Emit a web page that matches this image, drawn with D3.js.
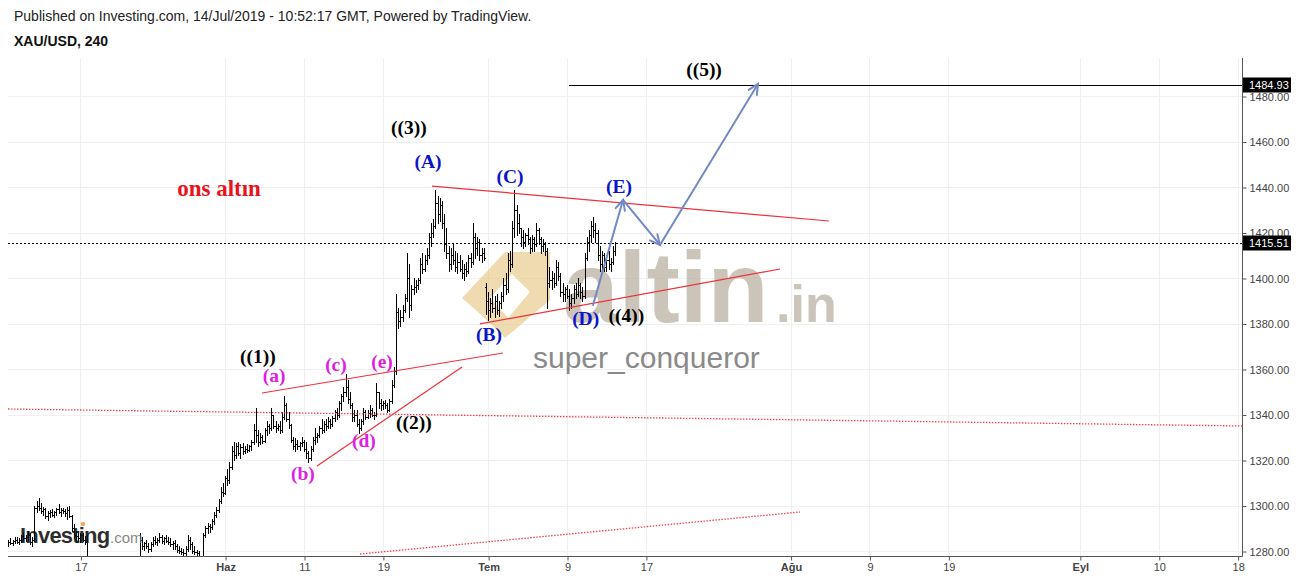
<!DOCTYPE html>
<html><head><meta charset="utf-8">
<script src="https://cdn.jsdelivr.net/npm/d3@7/dist/d3.min.js"></script>
<style>body{margin:0;background:#fff;}svg{display:block;}</style>
</head><body>
<svg id="c" width="1299" height="580"></svg>
<script>
// ---------- DATA ----------
// XAU/USD 4h bars, 6 bars per trading day; first bar = May 9 2019 (trading-day 0), slot 3
const firstBarDay = 0.5;
const barsPerDay = 6;
const opens = [1283.5,1284,1283.5,1284.5,1285,1284,1285,1286.5,1285.5,1286,1287,1284,1285,1299,1300,1299,1297.5,1298.5,1295.5,1296.5,1297,1296,1297,1298.5,1297,1298,1297.5,1296.5,1298,1295.5,1290,1287,1286.5,1285.5,1287,1285,1284,1277,1274,1275,1276,1274,1272,1273,1274,1275,1276,1274,1273,1272.5,1273.5,1274,1275,1274,1273,1274,1275.5,1276,1275,1275,1276,1285,1282,1283.5,1282,1281,1283,1285,1284,1285,1286,1284.5,1285.5,1284.5,1284,1283,1283.5,1282,1280.5,1280,1279.5,1279,1281,1285,1283,1280,1279.5,1279,1277,1275,1287,1290,1291,1290.5,1293,1296,1298,1302,1306,1305.5,1312,1311,1317,1324,1322,1326,1323,1325.5,1324,1325,1324.5,1326,1328,1333,1331,1328,1330,1328.5,1333,1335,1334,1340,1335,1334,1335,1333,1339,1344,1338,1335.5,1329,1326,1327,1326,1327.5,1328,1325,1323,1321,1325,1329,1330,1331,1334,1333,1336,1335,1337,1336,1338.5,1341,1340,1345,1348,1350,1352,1347,1344,1339,1340,1336,1334,1337,1341,1339,1340.5,1342,1340,1340,1350,1345,1344,1345,1344,1342,1346,1353,1359,1385,1381,1383,1386,1391,1400,1388,1395,1396,1397,1399,1406,1404,1408,1410,1418,1420,1423,1433,1428,1432,1424,1415,1411,1406,1410,1408,1405,1407,1404,1402,1404,1403,1409,1407,1418,1413,1416,1410,1411,1396,1390,1386,1389,1387,1390,1386,1389,1392,1397,1395,1408,1406,1422,1430,1424,1422,1418,1416,1419,1417,1413,1417,1415,1421,1417,1414,1415,1412,1398,1399,1400,1398,1405,1401,1394,1393,1395,1392,1389,1391,1395,1393,1397,1394,1392,1409,1416,1419,1423,1421,1420,1410,1406,1410,1405,1408,1406,1407,1412];
const highs = [1285,1285.5,1285,1286,1286,1285.5,1287,1288,1287,1289,1288,1286,1300,1302,1303.5,1301,1299.5,1299,1297.5,1298,1298.5,1297.5,1299,1300.5,1299,1299,1298.5,1299.5,1300,1296,1292,1289,1288.5,1288,1288,1286.5,1287,1277,1276,1277,1276.5,1275,1274,1275,1276,1277,1277,1275,1274,1274,1275,1276,1276.5,1275,1274.5,1276,1277,1277,1276.5,1277,1288,1286,1284,1285,1283.5,1284,1286,1286.5,1285.5,1288,1287,1286,1287,1286,1285.5,1284.5,1285,1283,1282,1281.5,1281,1282,1287,1286,1284,1282,1280.5,1280,1278,1288,1291,1292.5,1292,1294,1297,1299.5,1303,1308,1310,1313,1316,1319,1326,1328,1327.5,1328,1327,1327.5,1326,1327,1326.5,1329,1336,1343,1333,1332,1331,1334,1337,1336,1343,1340,1337,1336,1337,1341,1348,1345,1341,1336,1330,1329.5,1329,1328,1330,1329,1328,1324,1326,1330,1334,1332,1335,1338,1337,1338,1339,1338,1339.5,1342,1343,1346,1349,1352,1358,1355,1350,1345,1342,1342,1338,1338,1343,1342,1342,1344,1343,1341,1354,1350,1347,1346,1346.5,1345,1347,1355,1361,1393,1387,1386,1388,1393,1411,1406,1397,1400,1399,1400,1409,1411,1410,1413,1420,1424,1426,1438.5,1436,1435,1434,1428,1422,1414,1413,1415,1412,1411,1410,1408,1406,1407,1410,1411,1424,1420,1418,1417,1413,1413,1398,1394,1391,1395,1392,1393,1390,1394,1400,1402,1411,1412,1425,1438.5,1432,1428,1422,1421,1420,1422,1418,1419,1418,1424,1422,1418,1417,1416,1413,1405,1403,1402,1408,1407,1402,1398,1396,1397,1395,1393,1397,1398,1400,1398,1396,1411,1418,1421,1425,1426.7,1424,1421,1414,1412,1411,1410,1412,1409,1414,1416];
const lows = [1282,1283,1282.5,1283.5,1283.5,1283,1284,1285,1284.5,1285,1283,1282,1284.5,1297,1298,1296.5,1296,1294.5,1293.5,1295,1295.5,1295,1296,1296.5,1295.5,1296.5,1295.5,1294,1295,1289,1285.5,1284,1284.5,1284,1284.5,1283,1274,1273,1272,1273,1273,1271,1270,1272,1273,1274,1273,1272,1271,1271.5,1272,1273,1273.5,1272,1272,1273,1274,1274,1273,1274,1275,1281,1280.5,1281.5,1279.5,1280,1282,1283,1282.5,1284,1283.5,1283,1284,1283,1282,1281,1281,1279.5,1279,1278.5,1277,1278,1280,1281,1279,1278.5,1277.5,1276,1274,1274,1286,1288,1288.5,1289.5,1292,1295,1297,1301,1304,1305,1309,1310,1316,1320,1321,1322,1321,1322.5,1323,1323.5,1324,1324.5,1327,1328,1326,1327,1327.5,1328,1331,1332,1333,1334,1332.5,1333,1332,1332.5,1338,1337,1334,1328,1325,1324,1325,1324.5,1326,1324,1321,1319,1320,1324,1327,1328,1330,1332,1332.5,1333,1334,1334,1335,1337,1338,1339,1342,1346,1348,1345,1343,1337,1337,1335,1332,1333,1336,1338,1338.5,1339,1339.5,1338,1339.5,1343,1342,1342.5,1343,1341,1341.5,1345,1352,1358,1378,1379,1381,1385,1390,1383,1386,1393,1394,1395,1398,1402,1403,1406,1409,1414,1418,1422,1424,1425,1422,1412,1409,1403,1404,1406,1403,1402,1403,1400,1399,1401,1402,1405,1406,1409,1410,1408,1407,1408,1384,1381.5,1383,1385,1383,1384,1383.5,1387,1390,1393,1394,1403,1405,1418,1419,1420,1414,1413,1414,1415,1411,1412,1412,1414,1415,1411,1412,1410,1387,1396,1395,1396,1397,1399,1392,1390,1390,1391,1386,1387,1389,1391,1392,1391,1390,1391,1408,1412,1416,1418,1416,1408,1403,1404,1403,1403,1404,1403,1406,1410];
const closes = [1284,1283.5,1284.5,1285,1284,1285,1286.5,1285.5,1286,1287,1284,1285,1299,1300,1299,1297.5,1298.5,1295.5,1296.5,1297,1296,1297,1298.5,1297,1298,1297.5,1296.5,1298,1295.5,1290,1287,1286.5,1285.5,1287,1285,1284,1277,1274,1275,1276,1274,1272,1273,1274,1275,1276,1274,1273,1272.5,1273.5,1274,1275,1274,1273,1274,1275.5,1276,1275,1275,1276,1285,1282,1283.5,1282,1281,1283,1285,1284,1285,1286,1284.5,1285.5,1284.5,1284,1283,1283.5,1282,1280.5,1280,1279.5,1279,1281,1285,1283,1280,1279.5,1279,1277,1275,1287,1290,1291,1290.5,1293,1296,1298,1302,1306,1305.5,1312,1311,1317,1324,1322,1326,1323,1325.5,1324,1325,1324.5,1326,1328,1333,1331,1328,1330,1328.5,1333,1335,1334,1340,1335,1334,1335,1333,1339,1344,1338,1335.5,1329,1326,1327,1326,1327.5,1328,1325,1323,1321,1325,1329,1330,1331,1334,1333,1336,1335,1337,1336,1338.5,1341,1340,1345,1348,1350,1352,1347,1344,1339,1340,1336,1334,1337,1341,1339,1340.5,1342,1340,1340,1350,1345,1344,1345,1344,1342,1346,1353,1359,1385,1381,1383,1386,1391,1400,1388,1395,1396,1397,1399,1406,1404,1408,1410,1418,1420,1423,1433,1428,1432,1424,1415,1411,1406,1410,1408,1405,1407,1404,1402,1404,1403,1409,1407,1418,1413,1416,1410,1411,1409,1390,1386,1389,1387,1390,1386,1389,1392,1397,1395,1408,1406,1422,1430,1424,1422,1418,1416,1419,1417,1413,1417,1415,1421,1417,1414,1415,1412,1398,1399,1400,1398,1405,1401,1394,1393,1395,1392,1389,1391,1395,1393,1397,1394,1392,1409,1416,1419,1423,1421,1420,1410,1406,1410,1405,1408,1406,1407,1412,1415.51];

const yTicks = [1280,1300,1320,1340,1360,1380,1400,1420,1440,1460,1480];
// x ticks in trading-day units (0 = 9 May 2019)
const xTickDays   = [6,17,23,29,37,43,49,60,66,72,82,88,94];
const xTickLabels = ["17","Haz","11","19","Tem","9","17","Ağu","9","19","Eyl","10","18"];
const monthTicks  = ["Haz","Tem","Ağu","Eyl"];
const lastPrice = 1415.51;
const targetPrice = 1484.93;
const targetStartDay = 43.15;

// drawn trend lines [day, price] -> [day, price]
const redLines = [
  [[32.73,1440.4],[62.92,1425.05]],
  [[36.38,1379.8],[59.2,1403.96]],
  [[19.81,1349.45],[38.13,1367.03]],
  [[23.99,1317.36],[35.02,1360.88]]
];
const redDotted = [
  [[0.49,1342.42],[94.33,1334.95]],
  [[27.26,1278.68],[60.72,1297.14]]
];
const forecastPath = [[44.98,1388.13],[47.26,1434.29],[50.07,1414.51],[57.52,1485.3]];

const waveLabels = [
  {t:"((5))", d:53.42, p:1488.8, k:"k"},
  {t:"((3))", d:30.98, p:1463.3, k:"k"},
  {t:"(A)", d:32.43, p:1448.35, k:"b"},
  {t:"(C)", d:38.67, p:1441.76, k:"b"},
  {t:"(E)", d:46.95, p:1437.36, k:"b"},
  {t:"(B)", d:37.07, p:1372.31, k:"b"},
  {t:"(D)", d:44.42, p:1379.34, k:"b"},
  {t:"((4))", d:47.52, p:1380.66, k:"k"},
  {t:"((1))", d:19.50, p:1362.64, k:"k"},
  {t:"(a)", d:20.72, p:1354.29, k:"m"},
  {t:"(c)", d:25.43, p:1359.12, k:"m"},
  {t:"(e)", d:28.93, p:1360.44, k:"m"},
  {t:"(d)", d:27.56, p:1325.71, k:"m"},
  {t:"((2))", d:31.36, p:1333.63, k:"k"},
  {t:"(b)", d:22.92, p:1311.21, k:"m"}
];
const titleLabel = {t:"ons altın", d:16.54, p:1436.04};

// ---------- LAYOUT ----------
const colors = {k:"#000000", b:"#0a14c8", m:"#e020e0"};
const plot = {l:8, r:1242, t:58, b:556};
const svg = d3.select("#c");
const x = d3.scaleLinear().domain([43, 94]).range([567, 1237.65]);
const y = d3.scaleLinear().domain([1280, 1480]).range([551, 96]);
const barDay = i => firstBarDay + i / barsPerDay;
const sans = "Liberation Sans, Arial, sans-serif";

svg.append("rect").attr("width",1299).attr("height",580).attr("fill","#fff");
svg.append("defs").append("clipPath").attr("id","clip")
  .append("rect").attr("x",plot.l).attr("y",plot.t).attr("width",plot.r-plot.l).attr("height",plot.b-plot.t);

// header
svg.append("text").attr("x",14).attr("y",21).attr("font-family",sans)
  .attr("font-size",14).attr("fill","#222").text("Published on Investing.com, 14/Jul/2019 - 10:52:17 GMT, Powered by TradingView.");
svg.append("text").attr("x",14).attr("y",46).attr("font-family",sans)
  .attr("font-size",14).attr("font-weight","bold").attr("fill","#111").text("XAU/USD, 240");

// grid
const grid = svg.append("g").attr("stroke","#efefef").attr("stroke-width",1).attr("shape-rendering","crispEdges");
grid.selectAll("line.h").data(yTicks).join("line").attr("class","h")
  .attr("x1",plot.l).attr("x2",plot.r).attr("y1",d=>Math.round(y(d))+0.5).attr("y2",d=>Math.round(y(d))+0.5);
grid.selectAll("line.v").data(xTickDays).join("line").attr("class","v")
  .attr("x1",d=>Math.round(x(d))+0.5).attr("x2",d=>Math.round(x(d))+0.5).attr("y1",plot.t).attr("y2",plot.b);

// watermarks (behind the price bars)
const wm = svg.append("g");
const gold = wm.append("g").attr("opacity",0.6);
gold.append("path").attr("fill","#e6c27a").attr("fill-rule","evenodd")
  .attr("d","M462,298 L505,252 L550,252 L550,300 L505,338 L478,312 Z M490,298 L512,274 L530,292 L508,318 Z");
wm.append("text").attr("x",563).attr("y",322).attr("font-family",sans)
  .attr("font-weight","bold").attr("font-size",100).attr("fill","#bdb6a8").attr("opacity",0.8).text("altin");
wm.append("text").attr("x",776).attr("y",322).attr("font-family",sans)
  .attr("font-weight","bold").attr("font-size",52).attr("fill","#bdb6a8").attr("opacity",0.8).text(".in");
wm.append("text").attr("x",533).attr("y",368).attr("font-family",sans)
  .attr("font-size",30).attr("fill","#8a8a8a").text("super_conqueror");

// price bars
const bars = svg.append("g").attr("clip-path","url(#clip)").attr("stroke","#000").attr("stroke-width",1)
  .attr("fill","none").attr("shape-rendering","crispEdges");
bars.selectAll("path").data(closes.map((c,i)=>i)).join("path")
  .attr("d", i => {
    const cx = Math.round(x(barDay(i))) + 0.5;
    const yo = Math.round(y(opens[i])) + 0.5, yc = Math.round(y(closes[i])) + 0.5;
    return `M${cx},${Math.round(y(highs[i]))}V${Math.round(y(lows[i]))+1}M${cx-1.5},${yo}H${cx}M${cx},${yc}H${cx+1.5}`;
  });

// Investing.com logo
const lg = svg.append("g").attr("opacity",0.88);
lg.append("text").attr("x",20).attr("y",543).attr("font-family",sans)
  .attr("font-weight","bold").attr("font-size",22).attr("fill","#111").attr("letter-spacing",-0.8).text("Investing");
lg.append("circle").attr("cx",83).attr("cy",524).attr("r",2.2).attr("fill","#f0a040");
lg.append("text").attr("x",110).attr("y",543).attr("font-family",sans)
  .attr("font-size",15).attr("fill","#777").text(".com");

// annotations
const ann = svg.append("g").attr("clip-path","url(#clip)");
ann.selectAll("line.rl").data(redLines).join("line").attr("class","rl")
  .attr("x1",d=>x(d[0][0])).attr("y1",d=>y(d[0][1])).attr("x2",d=>x(d[1][0])).attr("y2",d=>y(d[1][1]))
  .attr("stroke","#f0313a").attr("stroke-width",1.2);
ann.selectAll("line.rd").data(redDotted).join("line").attr("class","rd")
  .attr("x1",d=>x(d[0][0])).attr("y1",d=>y(d[0][1])).attr("x2",d=>x(d[1][0])).attr("y2",d=>y(d[1][1]))
  .attr("stroke","#f04050").attr("stroke-width",1.3).attr("stroke-dasharray","1.5,1.5");
// level lines
ann.append("line").attr("x1",x(targetStartDay)).attr("x2",plot.r).attr("y1",Math.round(y(targetPrice))+0.5).attr("y2",Math.round(y(targetPrice))+0.5)
  .attr("stroke","#000").attr("stroke-width",1).attr("shape-rendering","crispEdges");
ann.append("line").attr("x1",plot.l).attr("x2",plot.r).attr("y1",Math.round(y(lastPrice))+0.5).attr("y2",Math.round(y(lastPrice))+0.5)
  .attr("stroke","#000").attr("stroke-width",1).attr("stroke-dasharray","2,2").attr("shape-rendering","crispEdges");

// forecast arrows
const segs = d3.pairs(forecastPath);
const arrowG = ann.append("g").attr("stroke","#7289c4").attr("stroke-width",2).attr("fill","none").attr("stroke-linecap","round");
arrowG.selectAll("line").data(segs).join("line")
  .attr("x1",d=>x(d[0][0])).attr("y1",d=>y(d[0][1])).attr("x2",d=>x(d[1][0])).attr("y2",d=>y(d[1][1]));
arrowG.selectAll("path").data(segs).join("path").attr("d", d => {
  const x1=x(d[0][0]), y1=y(d[0][1]), x2=x(d[1][0]), y2=y(d[1][1]);
  const a = Math.atan2(y2-y1, x2-x1), L = 11, s = 0.45;
  const p1 = [x2 - L*Math.cos(a-s), y2 - L*Math.sin(a-s)];
  const p2 = [x2 - L*Math.cos(a+s), y2 - L*Math.sin(a+s)];
  return `M${p1}L${x2},${y2}L${p2}`;
});

// wave labels
svg.append("g").selectAll("text").data(waveLabels).join("text")
  .attr("x",d=>x(d.d)).attr("y",d=>y(d.p)).attr("text-anchor","middle")
  .attr("font-family","Liberation Serif, Times New Roman, serif").attr("font-weight","bold").attr("font-size",19.5)
  .attr("fill",d=>colors[d.k]).text(d=>d.t);
svg.append("text").attr("x",x(titleLabel.d)).attr("y",y(titleLabel.p)).attr("text-anchor","middle")
  .attr("font-family","Liberation Serif, Times New Roman, serif").attr("font-weight","bold").attr("font-size",23)
  .attr("fill","#e8141c").text(titleLabel.t);

// axes
const yAxis = d3.axisRight(y).tickValues(yTicks).tickFormat(d3.format(".2f")).tickSize(4).tickSizeOuter(0).tickPadding(3);
const ya = svg.append("g").attr("transform",`translate(${plot.r+0.5},0.5)`).call(yAxis);
ya.select(".domain").remove();
ya.selectAll("line").attr("stroke","#555");
ya.selectAll("text").attr("font-family",sans).attr("font-size",11).attr("fill","#444");
svg.append("line").attr("x1",plot.r+0.5).attr("x2",plot.r+0.5).attr("y1",plot.t).attr("y2",plot.b+0.5).attr("stroke","#555");

const xAxis = d3.axisBottom(x).tickValues(xTickDays).tickFormat((d,i)=>xTickLabels[i]).tickSize(4).tickSizeOuter(0).tickPadding(3);
const xa = svg.append("g").attr("transform",`translate(0.5,${plot.b+0.5})`).call(xAxis);
xa.select(".domain").remove();
xa.selectAll("line").attr("stroke","#555");
xa.selectAll("text").attr("font-family",sans).attr("font-size",11).attr("fill","#444")
  .attr("font-weight",(d,i)=>monthTicks.includes(xTickLabels[i])?"bold":"normal");
svg.append("line").attr("x1",plot.l).attr("x2",plot.r+0.5).attr("y1",plot.b+0.5).attr("y2",plot.b+0.5).attr("stroke","#555");

// price tags
const tags = svg.append("g").selectAll("g").data([targetPrice,lastPrice]).join("g")
  .attr("transform",d=>`translate(${plot.r+1},${Math.round(y(d))})`);
tags.append("rect").attr("x",0).attr("y",-7.5).attr("width",48).attr("height",15).attr("fill","#000");
tags.append("text").attr("x",6).attr("y",4).attr("font-family",sans).attr("font-size",11).attr("fill","#fff")
  .text(d=>d3.format(".2f")(d));
</script>
</body></html>
